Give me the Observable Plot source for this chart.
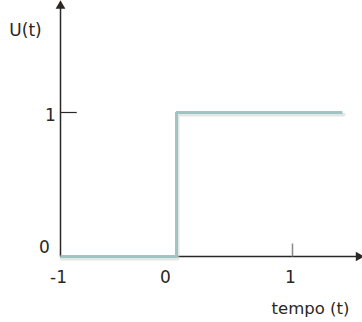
<!DOCTYPE html>
<html><head><meta charset="utf-8">
<script src="https://cdn.jsdelivr.net/npm/d3@7"></script>
<script src="https://cdn.jsdelivr.net/npm/@observablehq/plot@0.6"></script>
<style>body{margin:0;background:#fff}</style>
</head><body><div id="chart"></div>
<script>
const stepT = [-1, 0, 0, 1.43];
const stepU = [0, 0, 1, 1];
const xTicks = [-1, 0, 1];
const xTickLabels = ["-1", "0", "1"];
const yTicks = [0, 1];
const yTickLabels = ["0", "1"];
const xAxisEnd = 1.57;
const yAxisEnd = 1.74;
const yTitle = "U(t)";
const xTitle = "tempo (t)";

const step = stepT.map((t, i) => ({t, u: stepU[i]}));
const font = "DejaVu Sans";
const ink = "#2a2724";
const teal = "#9ec4c4";
const lab = (i, arr, labels) => ({v: arr[i], s: labels[i]});

const chart = Plot.plot({
  width: 362, height: 322,
  margin: 0,
  style: {fontFamily: font, background: "#fff"},
  x: {domain: [-1, 1], range: [60, 292], axis: null},
  y: {domain: [0, 1], range: [256, 112], axis: null},
  marks: [
    // axes
    Plot.link([0], {x1: -1, y1: 0, x2: xAxisEnd, y2: 0, stroke: ink, strokeWidth: 1.5}),
    Plot.link([0], {x1: -1, y1: 0, x2: -1, y2: yAxisEnd, stroke: ink, strokeWidth: 1.5}),
    Plot.dot([0], {x: xAxisEnd, y: 0, symbol: "triangle", r: 3.6, fill: ink, rotate: 90}),
    Plot.dot([0], {x: -1, y: yAxisEnd, symbol: "triangle", r: 3.6, fill: ink}),
    // ticks
    Plot.link([xTicks[2]], {x1: d => d, x2: d => d, y1: 0, y2: 0.09, stroke: "#888", strokeWidth: 1.5}),
    Plot.link([yTicks[1]], {x1: -1, x2: -0.86, y1: d => d, y2: d => d, stroke: ink, strokeWidth: 1.2}),
    // shadow + step line
    Plot.line(step, {x: "t", y: "u", stroke: "#ccc", strokeWidth: 4, strokeOpacity: 0.5, dx: 1, dy: 2}),
    Plot.line(step, {x: "t", y: "u", stroke: teal, strokeWidth: 3, strokeLinejoin: "miter", strokeLinecap: "butt"}),
    // x tick labels
    Plot.text([lab(0, xTicks, xTickLabels), lab(2, xTicks, xTickLabels)], {x: "v", y: 0, text: "s", dy: 21, dx: -2, fontSize: 17, fill: ink}),
    Plot.text([lab(1, xTicks, xTickLabels)], {x: "v", y: 0, text: "s", dy: 21, dx: -11, fontSize: 17, fill: ink}),
    // y tick labels
    Plot.text([lab(0, yTicks, yTickLabels)], {x: -1, y: "v", text: "s", dx: -16, dy: -9, fontSize: 17, fill: ink}),
    Plot.text([lab(1, yTicks, yTickLabels)], {x: -1, y: "v", text: "s", dx: -10, dy: 3, fontSize: 17, fill: ink}),
    // titles
    Plot.text([yTitle], {frameAnchor: "top-left", text: d => d, dx: 25, dy: 30, textAnchor: "middle", lineAnchor: "middle", fontSize: 17, fill: ink}),
    Plot.text([xTitle], {frameAnchor: "top-left", text: d => d, dx: 310, dy: 308, textAnchor: "middle", lineAnchor: "middle", fontSize: 16.5, fill: ink})
  ]
});
document.getElementById("chart").append(chart);
</script>
</body></html>
